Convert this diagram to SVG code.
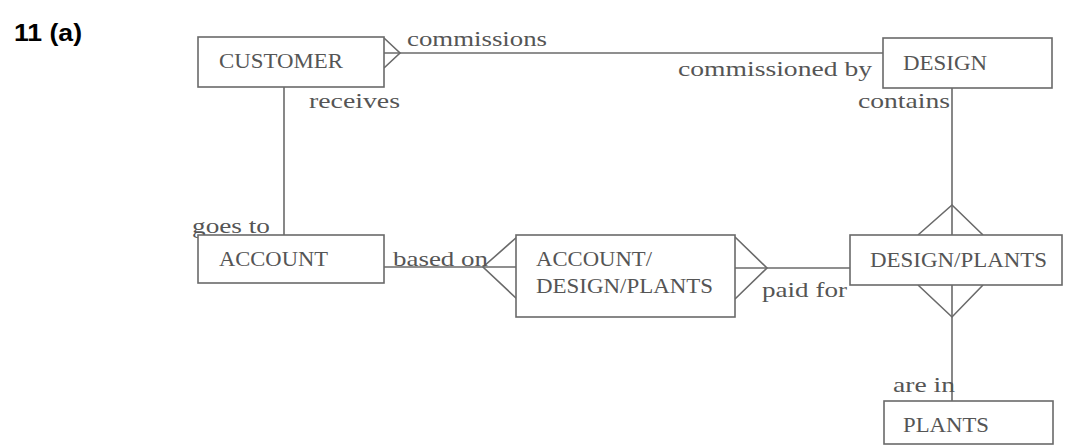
<svg xmlns="http://www.w3.org/2000/svg" width="1077" height="446" viewBox="0 0 1077 446">
<style>
.box{fill:#fff;stroke:#6a6a6a;stroke-width:1.6}
.ln{fill:none;stroke:#6a6a6a;stroke-width:1.6}
text{font-family:"Liberation Serif","Times New Roman",serif;font-size:22px;fill:#555}
.ttl{font-family:"Liberation Sans",Arial,sans-serif;font-weight:bold;font-size:24px;fill:#000}
</style>
<rect width="1077" height="446" fill="#fff"/>
<text class="ttl" x="14" y="41" textLength="68" lengthAdjust="spacingAndGlyphs">11 (a)</text>
<g id="connectors">
<line class="ln" x1="384" y1="53" x2="883" y2="53"/>
<polyline class="ln" points="384,38 400,53 384,68"/>
<line class="ln" x1="284" y1="87" x2="284" y2="235"/>
<line class="ln" x1="384" y1="267" x2="517" y2="267"/>
<polyline class="ln" points="517,237 483,267 517,299"/>
<line class="ln" x1="735" y1="268" x2="850" y2="268"/>
<polyline class="ln" points="735,237 767,268 735,299"/>
<line class="ln" x1="952" y1="88" x2="952" y2="401"/>
<polyline class="ln" points="918,235 952,205 983,235"/>
<polyline class="ln" points="918,285 952,317 983,285"/>
<text x="407" y="46" textLength="140" lengthAdjust="spacingAndGlyphs">commissions</text>
<text x="678" y="76" textLength="194" lengthAdjust="spacingAndGlyphs">commissioned by</text>
<text x="858" y="108" textLength="92" lengthAdjust="spacingAndGlyphs">contains</text>
<text x="309" y="108" textLength="91" lengthAdjust="spacingAndGlyphs">receives</text>
<text x="192" y="233" textLength="78" lengthAdjust="spacingAndGlyphs">goes to</text>
<text x="393" y="266" textLength="95" lengthAdjust="spacingAndGlyphs">based on</text>
<text x="762" y="297" textLength="85" lengthAdjust="spacingAndGlyphs">paid for</text>
<text x="893" y="392" textLength="62" lengthAdjust="spacingAndGlyphs">are in</text>
</g>
<g id="customer">
<rect class="box" x="198" y="37" width="186" height="50"/>
<text x="219" y="68" textLength="124" lengthAdjust="spacingAndGlyphs">CUSTOMER</text>
</g>
<g id="design">
<rect class="box" x="883" y="38" width="169" height="50"/>
<text x="903" y="70" textLength="84" lengthAdjust="spacingAndGlyphs">DESIGN</text>
</g>
<g id="account">
<rect class="box" x="198" y="235" width="186" height="48"/>
<text x="219" y="266" textLength="109" lengthAdjust="spacingAndGlyphs">ACCOUNT</text>
</g>
<g id="account-design-plants">
<rect class="box" x="516" y="235" width="219" height="82"/>
<text x="536" y="266" textLength="116" lengthAdjust="spacingAndGlyphs">ACCOUNT/</text>
<text x="536" y="293" textLength="177" lengthAdjust="spacingAndGlyphs">DESIGN/PLANTS</text>
</g>
<g id="design-plants">
<rect class="box" x="850" y="235" width="212" height="50"/>
<text x="870" y="267" textLength="177" lengthAdjust="spacingAndGlyphs">DESIGN/PLANTS</text>
</g>
<g id="plants">
<rect class="box" x="884" y="401" width="169" height="43"/>
<text x="903" y="432" textLength="86" lengthAdjust="spacingAndGlyphs">PLANTS</text>
</g>
</svg>
